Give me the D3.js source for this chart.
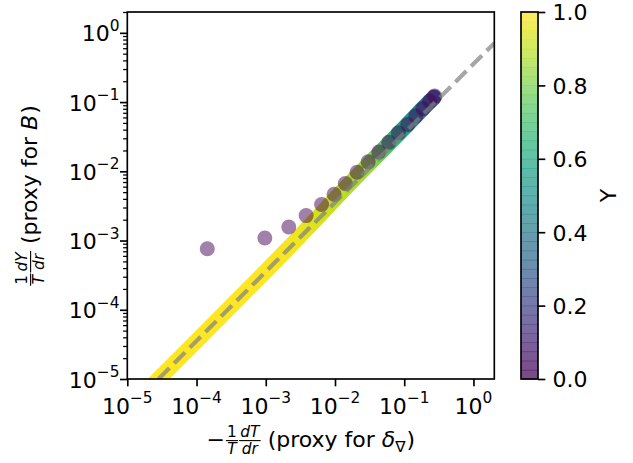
<!DOCTYPE html>
<html>
<head>
<meta charset="utf-8">
<script src="https://cdn.jsdelivr.net/npm/d3@7"></script>
<style>
  body { margin: 0; background: #fff; }
  text { font-family: "DejaVu Sans", sans-serif; fill: #000; white-space: pre; }
</style>
</head>
<body>
<svg id="chart" width="633" height="463"></svg>
<script>
// ---- data ----
const xTickExp = [-5, -4, -3, -2, -1, 0];
const yTickExp = [-5, -4, -3, -2, -1, 0];
const cbTicks = [0, 0.2, 0.4, 0.6, 0.8, 1.0];

// dense profile: temperature gradient, composition gradient, local Y
const bandX = [1.5e-5, 1e-4, 1e-3, 3e-3, 6e-3, 0.01, 0.02, 0.03, 0.05, 0.07, 0.1, 0.14, 0.18, 0.22, 0.27];
const bandY = [5.3e-6, 3.55e-5, 3.6e-4, 1.11e-3, 2.31e-3, 4.0e-3, 8.2e-3, 0.0124, 0.0208, 0.0294, 0.0425, 0.0602, 0.0783, 0.0957, 0.117];
const bandZ = [1.0, 1.0, 1.0, 0.98, 0.93, 0.9, 0.87, 0.84, 0.74, 0.66, 0.57, 0.47, 0.39, 0.33, 0.27];

// coarse sample points
const dotX = [1.43e-4, 9.7e-4, 2.15e-3, 3.83e-3, 6.4e-3, 9.7e-3, 0.0141, 0.0208, 0.0301, 0.0429, 0.0597, 0.0824, 0.1125, 0.147, 0.187, 0.233, 0.275];
const dotY = [7.6e-4, 1.09e-3, 1.57e-3, 2.29e-3, 3.31e-3, 4.66e-3, 6.65e-3, 9.68e-3, 0.0137, 0.0190, 0.0262, 0.0359, 0.0473, 0.0628, 0.0805, 0.103, 0.122];

// reference relation (dashed)
const refX = [1e-5, 2];
const refY = [3.55e-6, 0.71];

// ---- layout ----
const svg = d3.select("#chart");
const FS = 22, SUP = 15.4;
const plot = { left: 127.3, right: 494.3, top: 12, bottom: 379 };
const cbar = { left: 521, right: 538 };

const x = d3.scaleLog().domain([1e-5, 2]).range([plot.left, plot.right]);
const y = d3.scaleLog().domain([1e-5, 2]).range([plot.bottom, plot.top]);
const cb = d3.scaleLinear().domain([0, 1]).range([plot.bottom, plot.top]);

svg.append("defs").append("clipPath").attr("id", "clip")
  .append("rect").attr("x", plot.left).attr("y", plot.top)
  .attr("width", plot.right - plot.left).attr("height", plot.bottom - plot.top);

const inner = svg.append("g").attr("clip-path", "url(#clip)");

// band coloured by Y along its length
const bandPts = bandX.map((v, i) => [x(v), y(bandY[i])]);
const p0 = bandPts[0], p1 = bandPts[bandPts.length - 1];
const dx = p1[0] - p0[0], dy = p1[1] - p0[1], L2 = dx * dx + dy * dy;
const grad = svg.select("defs").append("linearGradient").attr("id", "bandGrad")
  .attr("gradientUnits", "userSpaceOnUse")
  .attr("x1", p0[0]).attr("y1", p0[1]).attr("x2", p1[0]).attr("y2", p1[1]);
bandPts.forEach((p, i) => {
  const t = ((p[0] - p0[0]) * dx + (p[1] - p0[1]) * dy) / L2;
  grad.append("stop").attr("offset", Math.max(0, Math.min(1, t)))
    .attr("stop-color", d3.interpolateViridis(bandZ[i]));
});
inner.append("path")
  .datum(bandX.map((v, i) => [v, bandY[i]]))
  .attr("d", d3.line().x(d => x(d[0])).y(d => y(d[1])))
  .attr("fill", "none").attr("stroke", "url(#bandGrad)")
  .attr("stroke-width", 15.5).attr("stroke-linecap", "round").attr("stroke-linejoin", "round");

// sample points
inner.selectAll("circle.pt").data(dotX.map((v, i) => [v, dotY[i]])).join("circle")
  .attr("class", "pt")
  .attr("cx", d => x(d[0])).attr("cy", d => y(d[1])).attr("r", 7.5)
  .attr("fill", d3.interpolateViridis(0)).attr("fill-opacity", 0.5);

// dashed reference line
inner.append("path")
  .datum(refX.map((v, i) => [v, refY[i]]))
  .attr("d", d3.line().x(d => x(d[0])).y(d => y(d[1])))
  .attr("fill", "none").attr("stroke", "#808080").attr("stroke-opacity", 0.7)
  .attr("stroke-width", 4.2).attr("stroke-dasharray", "15.4,6.7");

// ---- axes ----
const majors = e => e.map(k => Math.pow(10, k));
const yMinor = [];
yTickExp.forEach(k => { for (let m = 2; m <= 9; m++) { const v = m * Math.pow(10, k); if (v <= 2.0001) yMinor.push(v); } });

const xAxis = svg.append("g").attr("transform", `translate(0,${plot.bottom})`)
  .call(d3.axisBottom(x).tickValues(majors(xTickExp)).tickSize(7.3).tickSizeOuter(0).tickFormat(() => ""));
const yAxisMinor = svg.append("g").attr("transform", `translate(${plot.left},0)`)
  .call(d3.axisLeft(y).tickValues(yMinor).tickSize(4.2).tickSizeOuter(0).tickFormat(() => ""));
const yAxis = svg.append("g").attr("transform", `translate(${plot.left},0)`)
  .call(d3.axisLeft(y).tickValues(majors(yTickExp)).tickSize(7.3).tickSizeOuter(0).tickFormat(() => ""));
[xAxis, yAxis, yAxisMinor].forEach(g => {
  g.select(".domain").remove();
  g.selectAll("line").attr("stroke", "#000");
});
xAxis.selectAll("line").attr("stroke-width", 1.67);
yAxis.selectAll("line").attr("stroke-width", 1.67);
yAxisMinor.selectAll("line").attr("stroke-width", 1.25);

function powLabel(sel, exp) {
  sel.append("tspan").text("10");
  sel.append("tspan").attr("dy", -10.5).style("font-size", SUP + "px")
    .text(exp < 0 ? "\u2212" + (-exp) : String(exp));
}
xTickExp.forEach(e => {
  const t = svg.append("text").attr("x", x(Math.pow(10, e))).attr("y", 413.5)
    .attr("text-anchor", "middle").style("font-size", FS + "px");
  powLabel(t, e);
});
yTickExp.forEach(e => {
  const t = svg.append("text").attr("x", 119.5).attr("y", y(Math.pow(10, e)) + 8.6)
    .attr("text-anchor", "end").style("font-size", FS + "px");
  powLabel(t, e);
});

svg.append("rect").attr("x", plot.left).attr("y", plot.top)
  .attr("width", plot.right - plot.left).attr("height", plot.bottom - plot.top)
  .attr("fill", "none").attr("stroke", "#000").attr("stroke-width", 1.67);

// ---- colorbar ----
const nCells = 40;
const cells = d3.range(nCells).map(i => [i / nCells, (i + 1) / nCells]);
svg.append("g").selectAll("rect").data(cells).join("rect")
  .attr("x", cbar.left).attr("width", cbar.right - cbar.left)
  .attr("y", d => cb(d[1]))
  .attr("height", d => cb(d[0]) - cb(d[1]) + 0.6)
  .attr("fill", d => d3.interpolateViridis((d[0] + d[1]) / 2))
  .attr("fill-opacity", 0.72);
svg.append("rect").attr("x", cbar.left).attr("y", plot.top)
  .attr("width", cbar.right - cbar.left).attr("height", plot.bottom - plot.top)
  .attr("fill", "none").attr("stroke", "#000").attr("stroke-width", 1.67);
const cAxis = svg.append("g").attr("transform", `translate(${cbar.right},0)`)
  .call(d3.axisRight(cb).tickValues(cbTicks).tickSize(7.3).tickSizeOuter(0).tickPadding(7.2).tickFormat(d3.format(".1f")));
cAxis.select(".domain").remove();
cAxis.selectAll("line").attr("stroke", "#000").attr("stroke-width", 1.67);
cAxis.selectAll("text").attr("dy", "0.36em").style("font-size", FS + "px")
  .style("font-family", "DejaVu Sans").attr("fill", "#000");
svg.append("text").attr("transform", `translate(616,195.5) rotate(-90)`)
  .attr("text-anchor", "middle").style("font-size", FS + "px").text("Y");

// ---- axis titles with fractions ----
function addText(g, cx, str, o = {}) {
  const t = g.append("text").attr("x", cx).attr("y", o.y || 0)
    .style("font-size", (o.size || FS) + "px")
    .style("font-style", o.italic ? "italic" : "normal").text(str);
  return cx + t.node().getComputedTextLength();
}
function addFrac(g, cx, num, den, numIt, denIt) {
  const bar = -6.4;
  const tn = g.append("text").attr("y", bar - 3.6).style("font-size", SUP + "px")
    .style("font-style", numIt ? "italic" : "normal").attr("text-anchor", "middle").text(num);
  const td = g.append("text").attr("y", bar + 13.6).style("font-size", SUP + "px")
    .style("font-style", denIt ? "italic" : "normal").attr("text-anchor", "middle").text(den);
  const w = Math.max(tn.node().getComputedTextLength(), td.node().getComputedTextLength()) + 2.4;
  tn.attr("x", cx + w / 2); td.attr("x", cx + w / 2);
  g.append("line").attr("x1", cx).attr("x2", cx + w).attr("y1", bar).attr("y2", bar)
    .attr("stroke", "#000").attr("stroke-width", 1.1);
  return cx + w;
}

// x title: -(1/T)(dT/dr) (proxy for δ∇)
const xt = svg.append("g");
let cx = 0;
cx = addText(xt, cx, "\u2212");
cx = addFrac(xt, cx + 1, "1", "T", false, true);
cx = addFrac(xt, cx + 1, "dT", "dr", true, true);
cx = addText(xt, cx, " (proxy for ");
cx = addText(xt, cx, "\u03b4", { italic: true });
cx = addText(xt, cx, "\u2207", { size: SUP, y: 4.7 });
cx = addText(xt, cx + 1, ")");
xt.attr("transform", `translate(${(plot.left + plot.right) / 2 - cx / 2},447)`);

// y title: (1/T)(dY/dr) (proxy for B)
const yt = svg.append("g");
let cy = 0;
cy = addFrac(yt, cy, "1", "T", false, true);
cy = addFrac(yt, cy + 1, "dY", "dr", true, true);
cy = addText(yt, cy, " (proxy for ");
cy = addText(yt, cy, "B", { italic: true });
cy = addText(yt, cy + 1, ")");
yt.attr("transform", `translate(37,${(plot.top + plot.bottom) / 2 + cy / 2}) rotate(-90)`);
</script>
</body>
</html>
